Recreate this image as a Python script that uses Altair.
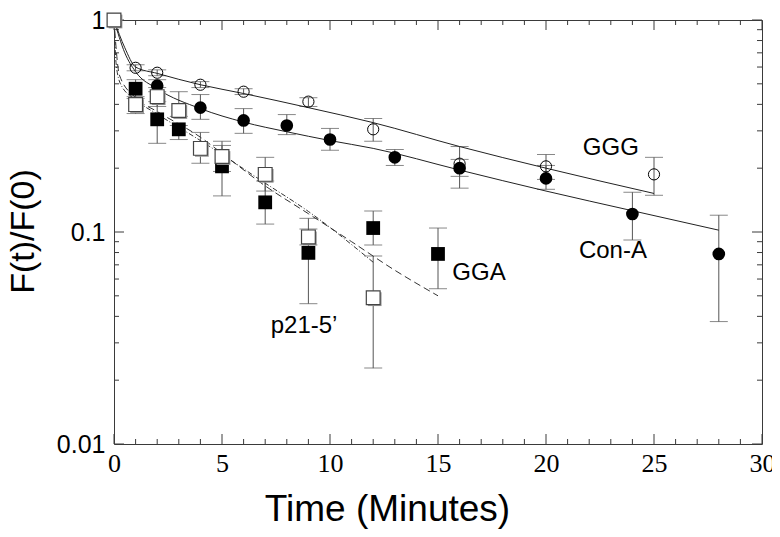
import altair as alt
import pandas as pd

# ---------------- data ----------------
# GGG (open circles)
ggg_t = [0, 1, 2, 4, 6, 9, 12, 16, 20, 25]
ggg_v = [1.0, 0.595, 0.564, 0.495, 0.459, 0.412, 0.305, 0.21, 0.204, 0.187]
ggg_lo = [None, 0.576, 0.546, 0.480, 0.445, 0.391, 0.268, 0.183, 0.177, 0.149]
ggg_hi = [None, 0.615, 0.582, 0.512, 0.474, 0.430, 0.343, 0.253, 0.232, 0.225]

# Con-A (filled circles)
cona_t = [0, 2, 4, 6, 8, 10, 13, 16, 20, 24, 28]
cona_v = [1.0, 0.49, 0.386, 0.336, 0.318, 0.273, 0.225, 0.200, 0.179, 0.1216, 0.0788]
cona_lo = [None, 0.459, 0.340, 0.292, 0.288, 0.243, 0.206, 0.161, 0.159, 0.0917, 0.0378]
cona_hi = [None, 0.523, 0.445, 0.382, 0.358, 0.308, 0.245, 0.220, 0.206, 0.154, 0.120]

# GGA (filled squares)
gga_t = [0, 1, 2, 3, 5, 7, 9, 12, 15]
gga_v = [1.0, 0.474, 0.340, 0.305, 0.204, 0.138, 0.0797, 0.1044, 0.0788]
gga_lo = [None, 0.426, 0.262, 0.273, 0.148, 0.109, 0.0459, 0.0869, 0.054]
gga_hi = [None, 0.523, 0.412, 0.318, 0.256, 0.174, 0.116, 0.1255, 0.1044]

# p21-5' (open squares)
p21_t = [0, 1, 2, 3, 4, 5, 7, 9, 12]
p21_v = [1.0, 0.399, 0.435, 0.374, 0.248, 0.227, 0.187, 0.0948, 0.049]
p21_lo = [None, 0.362, 0.391, 0.351, 0.211, 0.193, 0.156, 0.0869, 0.0228]
p21_hi = [None, 0.435, 0.480, 0.459, 0.295, 0.268, 0.225, 0.1033, 0.0770]

# fitted curves
ggg_fit_t = [0, 0.5, 1, 2, 4, 6, 9, 12, 16, 20, 25]
ggg_fit_v = [1.0, 0.74, 0.60, 0.56, 0.495, 0.45, 0.386, 0.328, 0.253, 0.200, 0.152]
cona_fit_t = [0, 0.5, 1, 2, 4, 6, 8, 10, 12, 16, 20, 24, 28]
cona_fit_v = [1.0, 0.70, 0.57, 0.474, 0.382, 0.33, 0.297, 0.270, 0.248, 0.196, 0.156, 0.126, 0.102]
gga_fit_t = [0, 0.25, 1, 2, 4, 5, 7, 9, 11, 13, 15]
gga_fit_v = [1.0, 0.55, 0.43, 0.37, 0.28, 0.235, 0.165, 0.122, 0.09, 0.066, 0.050]
p21_fit_t = [0, 0.1, 0.3, 1, 2, 4, 7, 9, 12]
p21_fit_v = [1.0, 0.62, 0.50, 0.42, 0.36, 0.27, 0.17, 0.125, 0.072]

# annotation labels
label_text = ["GGG", "Con-A", "GGA", "p21-5\u2019"]
label_t = [23.0, 23.1, 16.9, 8.8]
label_v = [0.25, 0.0815, 0.0642, 0.0362]

# axis tick positions
x_major = [0, 5, 10, 15, 20, 25, 30]
x_minor = [1, 2, 3, 4, 6, 7, 8, 9, 11, 12, 13, 14, 16, 17, 18, 19,
           21, 22, 23, 24, 26, 27, 28, 29]
y_major = [0.01, 0.1, 1]
y_minor = [0.02, 0.03, 0.04, 0.05, 0.06, 0.07, 0.08, 0.09,
           0.2, 0.3, 0.4, 0.5, 0.6, 0.7, 0.8, 0.9]

W, H = 648, 424
INK = "#3a3a3a"


def pts(t, v):
    return pd.DataFrame({"t": t, "v": v})


def errs(t, lo, hi):
    rows = [(a, b, c) for a, b, c in zip(t, lo, hi) if b is not None]
    return pd.DataFrame(rows, columns=["t", "lo", "hi"])


def caps(t, lo, hi):
    rows = []
    for a, b, c in zip(t, lo, hi):
        if b is not None:
            rows.append((a, b))
            rows.append((a, c))
    return pd.DataFrame(rows, columns=["t", "v"])


xs = alt.Scale(domain=[0, 30], nice=False, zero=False)
ys = alt.Scale(type="log", domain=[0.01, 1], nice=False)

x_axis = alt.Axis(
    values=x_major, ticks=False, domain=False, grid=False,
    labelFont="Liberation Sans Narrow", labelFontSize=26, labelPadding=6,
    labelColor="black", labelFlush=False, labelOverlap=False,
    title="Time (Minutes)", titleFont="Liberation Sans", titleFontSize=37,
    titleFontWeight="normal", titleColor="black", titleX=273, titleY=76,
    titleBaseline="alphabetic", titleAlign="center")
y_axis = alt.Axis(
    values=y_major, format="~g", ticks=False, domain=False, grid=False,
    labelFont="Liberation Sans", labelFontSize=25, labelPadding=9,
    labelColor="black", labelFlush=False, labelOverlap=False,
    title="F(t)/F(0)", titleFont="Liberation Sans", titleFontSize=34,
    titleFontWeight="normal", titleColor="black", titleX=-81, titleY=211,
    titleBaseline="alphabetic", titleAlign="center", titleAngle=270)


def X(f="t"):
    return alt.X(f + ":Q", scale=xs, axis=x_axis)


def Y(f="v"):
    return alt.Y(f + ":Q", scale=ys, axis=y_axis)


layers = []

# inward ticks on all four sides
layers += [
    alt.Chart(pd.DataFrame({"t": x_minor})).mark_rule(color=INK).encode(
        x=X(), y=alt.value(H), y2=alt.value(H - 5)),
    alt.Chart(pd.DataFrame({"t": x_major})).mark_rule(color=INK).encode(
        x=X(), y=alt.value(H), y2=alt.value(H - 10)),
    alt.Chart(pd.DataFrame({"t": x_minor})).mark_rule(color=INK).encode(
        x=X(), y=alt.value(0), y2=alt.value(5)),
    alt.Chart(pd.DataFrame({"t": x_major})).mark_rule(color=INK).encode(
        x=X(), y=alt.value(0), y2=alt.value(10)),
    alt.Chart(pd.DataFrame({"v": y_minor})).mark_rule(color=INK).encode(
        y=Y(), x=alt.value(0), x2=alt.value(5)),
    alt.Chart(pd.DataFrame({"v": y_major})).mark_rule(color=INK).encode(
        y=Y(), x=alt.value(0), x2=alt.value(10)),
    alt.Chart(pd.DataFrame({"v": y_minor})).mark_rule(color=INK).encode(
        y=Y(), x=alt.value(W), x2=alt.value(W - 5)),
    alt.Chart(pd.DataFrame({"v": y_major})).mark_rule(color=INK).encode(
        y=Y(), x=alt.value(W), x2=alt.value(W - 10)),
]

# error bars
for t, lo, hi in [(ggg_t, ggg_lo, ggg_hi), (cona_t, cona_lo, cona_hi),
                  (gga_t, gga_lo, gga_hi), (p21_t, p21_lo, p21_hi)]:
    layers.append(alt.Chart(errs(t, lo, hi)).mark_rule(color="#555", strokeWidth=1).encode(
        x=X(), y=Y("lo"), y2=alt.Y2("hi")))
    layers.append(alt.Chart(caps(t, lo, hi)).mark_tick(
        orient="horizontal", size=18, thickness=1, color="#555").encode(x=X(), y=Y()))

# fitted curves
layers.append(alt.Chart(pts(ggg_fit_t, ggg_fit_v)).mark_line(
    color="#222", strokeWidth=1, interpolate="monotone").encode(x=X(), y=Y()))
layers.append(alt.Chart(pts(cona_fit_t, cona_fit_v)).mark_line(
    color="#222", strokeWidth=1, interpolate="monotone").encode(x=X(), y=Y()))
layers.append(alt.Chart(pts(gga_fit_t, gga_fit_v)).mark_line(
    color="#333", strokeWidth=1, strokeDash=[7, 4], interpolate="monotone").encode(x=X(), y=Y()))
layers.append(alt.Chart(pts(p21_fit_t, p21_fit_v)).mark_line(
    color="#333", strokeWidth=1, strokeDash=[5, 2, 1, 2], interpolate="monotone").encode(x=X(), y=Y()))

# markers
layers.append(alt.Chart(pts(cona_t, cona_v)).mark_point(
    shape="circle", size=160, filled=True, color="black", opacity=1).encode(x=X(), y=Y()))
layers.append(alt.Chart(pts(ggg_t, ggg_v)).mark_point(
    shape="circle", size=125, filled=False, color="black", strokeWidth=1, opacity=1).encode(x=X(), y=Y()))
layers.append(alt.Chart(pts(gga_t, gga_v)).mark_point(
    shape="square", size=190, filled=True, color="black", opacity=1).encode(x=X(), y=Y()))
layers.append(alt.Chart(pts(p21_t, p21_v)).mark_point(
    shape="square", size=190, filled=True, color="#9a9a9a", opacity=1,
    xOffset=1.5, yOffset=1.5).encode(x=X(), y=Y()))
layers.append(alt.Chart(pts(p21_t, p21_v)).mark_point(
    shape="square", size=190, fill="white", stroke="#444", strokeWidth=1.2,
    fillOpacity=1, strokeOpacity=1, opacity=1).encode(x=X(), y=Y()))

# text annotations
layers.append(alt.Chart(pd.DataFrame({"t": label_t, "v": label_v, "s": label_text})).mark_text(
    font="Liberation Sans", fontSize=24, align="center", baseline="middle", color="black").encode(
    x=X(), y=Y(), text="s:N"))

chart = alt.layer(*layers).properties(
    width=W, height=H,
    autosize=alt.AutoSizeParams(type="none"),
    padding={"left": 106, "top": 12, "right": 10, "bottom": 85},
    background="white",
).configure_view(stroke=INK, strokeWidth=1)

chart.save("out.html", embed_options={"renderer": "svg", "actions": False})
